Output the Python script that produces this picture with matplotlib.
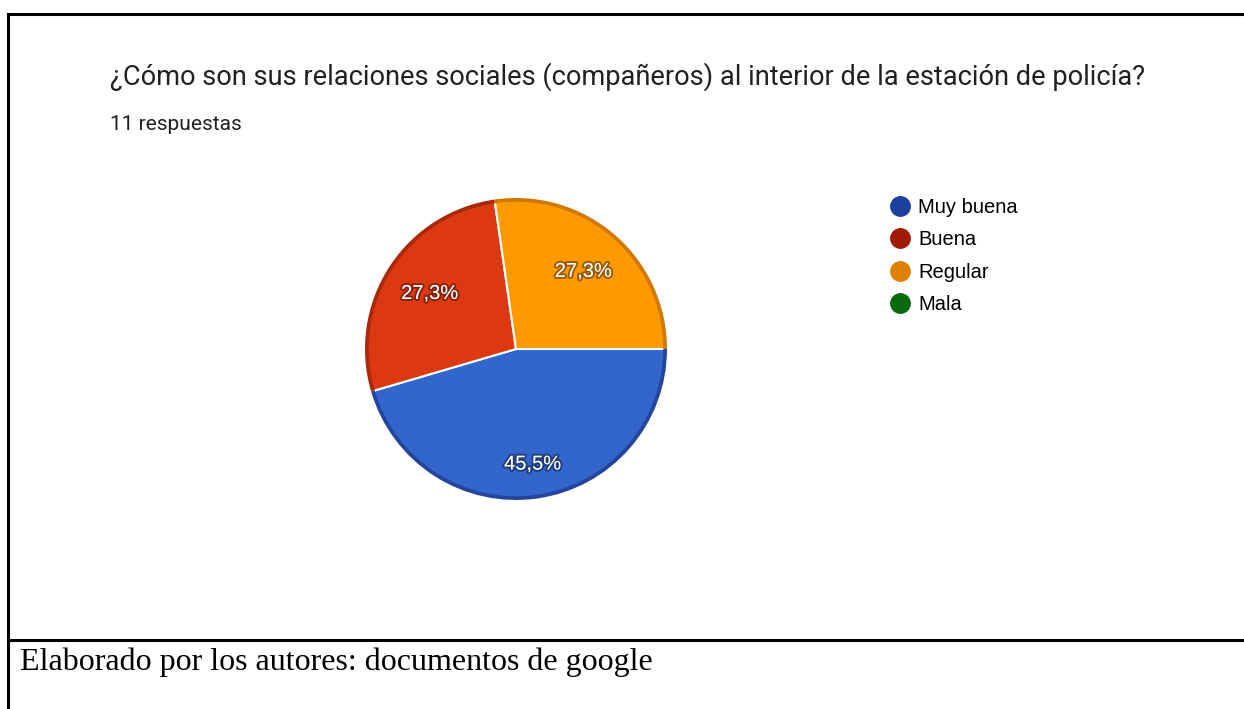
import numpy as np
import matplotlib.pyplot as plt
import matplotlib.patheffects as pe
from matplotlib.lines import Line2D

# data
categories = ['Muy buena', 'Buena', 'Regular', 'Mala']
values = [5, 3, 3, 0]
pie_colors = ['#3366CC', '#DC3912', '#FF9900', '#109618']
rim_colors = ['#23459c', '#a82a0a', '#d17800', '#0b6a10']
marker_colors = ['#1b3f9c', '#a11c06', '#e08000', '#0b6a10']

title = '¿Cómo son sus relaciones sociales (compañeros) al interior de la estación de policía?'
subtitle = '11 respuestas'
caption = 'Elaborado por los autores: documentos de google'

W, H = 1244, 709
fig = plt.figure(figsize=(W / 100, H / 100), dpi=100)

# frame lines (table border)
def hline(y):
    fig.add_artist(Line2D([8 / W, 1], [1 - y / H] * 2, color='black', lw=2.2))

hline(14)
hline(640)
fig.add_artist(Line2D([8 / W, 8 / W], [0, 1 - 14 / H], color='black', lw=2.2))

fig.text(110 / W, 1 - 77 / H, title, fontsize=19.6, family='Roboto',
         color='#202124', va='center', ha='left')
fig.text(110 / W, 1 - 125 / H, subtitle, fontsize=15, family='Roboto',
         color='#202124', va='center', ha='left')
fig.text(20 / W, 1 - 662 / H, caption, fontsize=23, family='Liberation Serif',
         color='black', va='center', ha='left')

# pie
cx, cy, r = 516, 349, 151
ax = fig.add_axes([(cx - r) / W, 1 - (cy + r) / H, 2 * r / W, 2 * r / H])

shown = [i for i, v in enumerate(values) if v > 0]
vals = [values[i] for i in shown]
wedges, _ = ax.pie(vals, colors=[pie_colors[i] for i in shown], startangle=0,
                   counterclock=False, radius=1,
                   wedgeprops=dict(edgecolor='white', linewidth=1.5))
# darker rim for the shaded look
ax.pie(vals, colors=[rim_colors[i] for i in shown], startangle=0,
       counterclock=False, radius=1,
       wedgeprops=dict(width=0.025, edgecolor='none', linewidth=0))
ax.set_xlim(-1, 1)
ax.set_ylim(-1, 1)
ax.axis('off')

total = sum(values)
for w, v in zip(wedges, vals):
    mid = np.deg2rad((w.theta1 + w.theta2) / 2)
    frac = v / total
    dist = 0.77 if frac > 0.4 else 0.68
    pct = f'{100 * frac:.1f}%'.replace('.', ',')
    ax.text(dist * np.cos(mid), dist * np.sin(mid), pct, ha='center', va='center',
            fontsize=14.5, family='Liberation Sans', color='white',
            path_effects=[pe.withStroke(linewidth=2.8, foreground=(0, 0, 0, 0.4))])

# legend
handles = [Line2D([], [], marker='o', linestyle='none', markersize=14,
                  markerfacecolor=c, markeredgecolor=c)
           for c in marker_colors]
fig.legend(handles, categories, loc='upper left',
           bbox_to_anchor=(885 / W, 1 - 198 / H), frameon=False,
           prop=dict(family='Liberation Sans', size=14.5), labelspacing=0.66,
           handletextpad=0.15, handlelength=1.5, borderaxespad=0, borderpad=0)

fig.savefig('out.png', dpi=100)
